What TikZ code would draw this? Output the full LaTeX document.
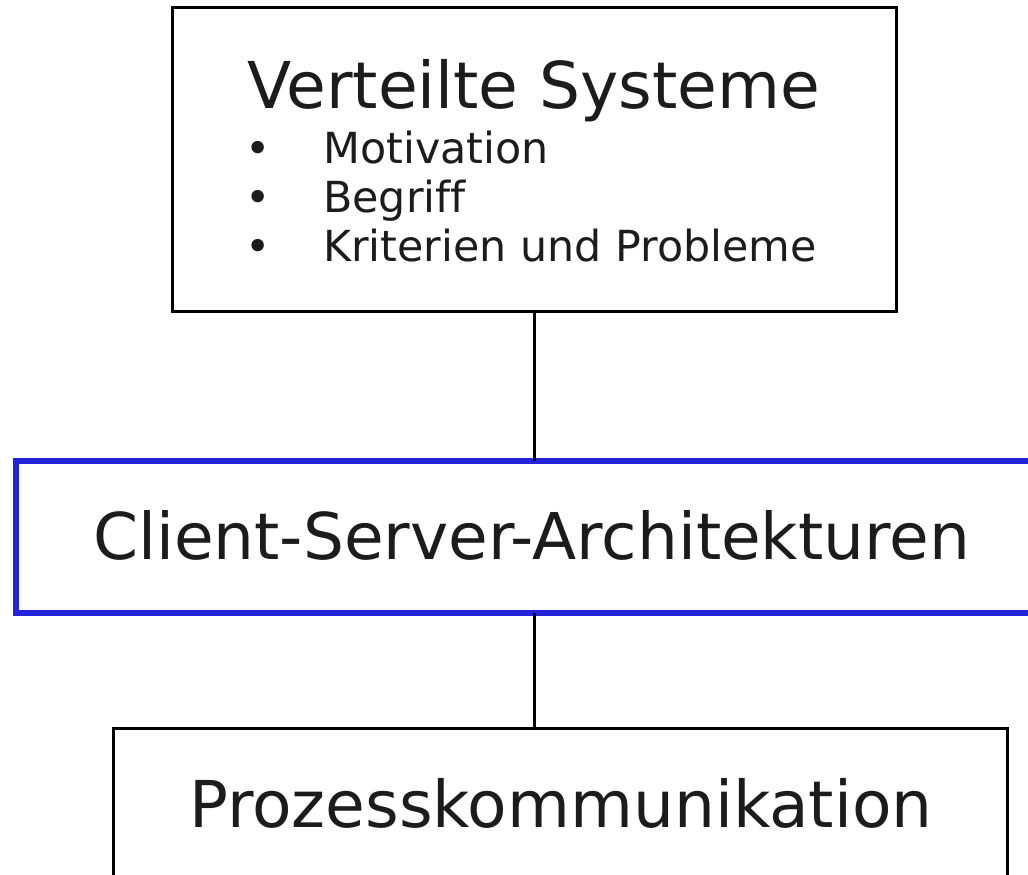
\documentclass[tikz,border=0pt]{standalone}
\usepackage{fontspec}
\setmainfont[Ligatures=NoCommon]{DejaVu Sans}
\definecolor{txt}{HTML}{1C1C1C}
\definecolor{hiblue}{HTML}{2323D9}
\begin{document}
\begin{tikzpicture}[x=1pt,y=-1pt,
  box/.style={draw=black, line width=3pt, rectangle, inner sep=0pt, outer sep=0pt},
  hibox/.style={draw=hiblue, line width=6.5pt, rectangle, inner sep=0pt, outer sep=0pt},
  lbl/.style={text=txt, inner sep=0pt, anchor=base west},
  link/.style={draw=black, line width=3pt}]
\useasboundingbox (0,0) rectangle (1028,875);
\clip (0,0) rectangle (1028,875);
\node[box, minimum width=724pt, minimum height=303pt] (top) at (534,159.5) {};
\node[hibox, minimum width=1044pt, minimum height=152pt] (mid) at (538,537) {};
\node[box, minimum width=894pt, minimum height=192pt] (bot) at (560,824) {};
\node[lbl, font=\fontsize{64.6}{64.6}\selectfont] (t1) at (247,108) {Verteilte Systeme};
\node[lbl, font=\fontsize{42.8}{42.8}\selectfont] (b1) at (245,163) {•};
\node[lbl, font=\fontsize{42.8}{42.8}\selectfont] (b2) at (245,212) {•};
\node[lbl, font=\fontsize{42.8}{42.8}\selectfont] (b3) at (245,261) {•};
\node[lbl, font=\fontsize{42.8}{42.8}\selectfont] (i1) at (323,163) {Motivation};
\node[lbl, font=\fontsize{42.8}{42.8}\selectfont] (i2) at (323,212) {Begriff};
\node[lbl, font=\fontsize{42.8}{42.8}\selectfont] (i3) at (323,261) {Kriterien und Probleme};
\node[lbl, font=\fontsize{64.5}{64.5}\selectfont] (m1) at (93,559) {Client-Server-Architekturen};
\node[lbl, font=\fontsize{64.6}{64.6}\selectfont] (p1) at (189,827) {Prozesskommunikation};
\draw[link] (top.south) -- (top.south |- mid.north);
\draw[link] (top.south |- mid.south) -- (top.south |- bot.north);
\end{tikzpicture}
\end{document}
